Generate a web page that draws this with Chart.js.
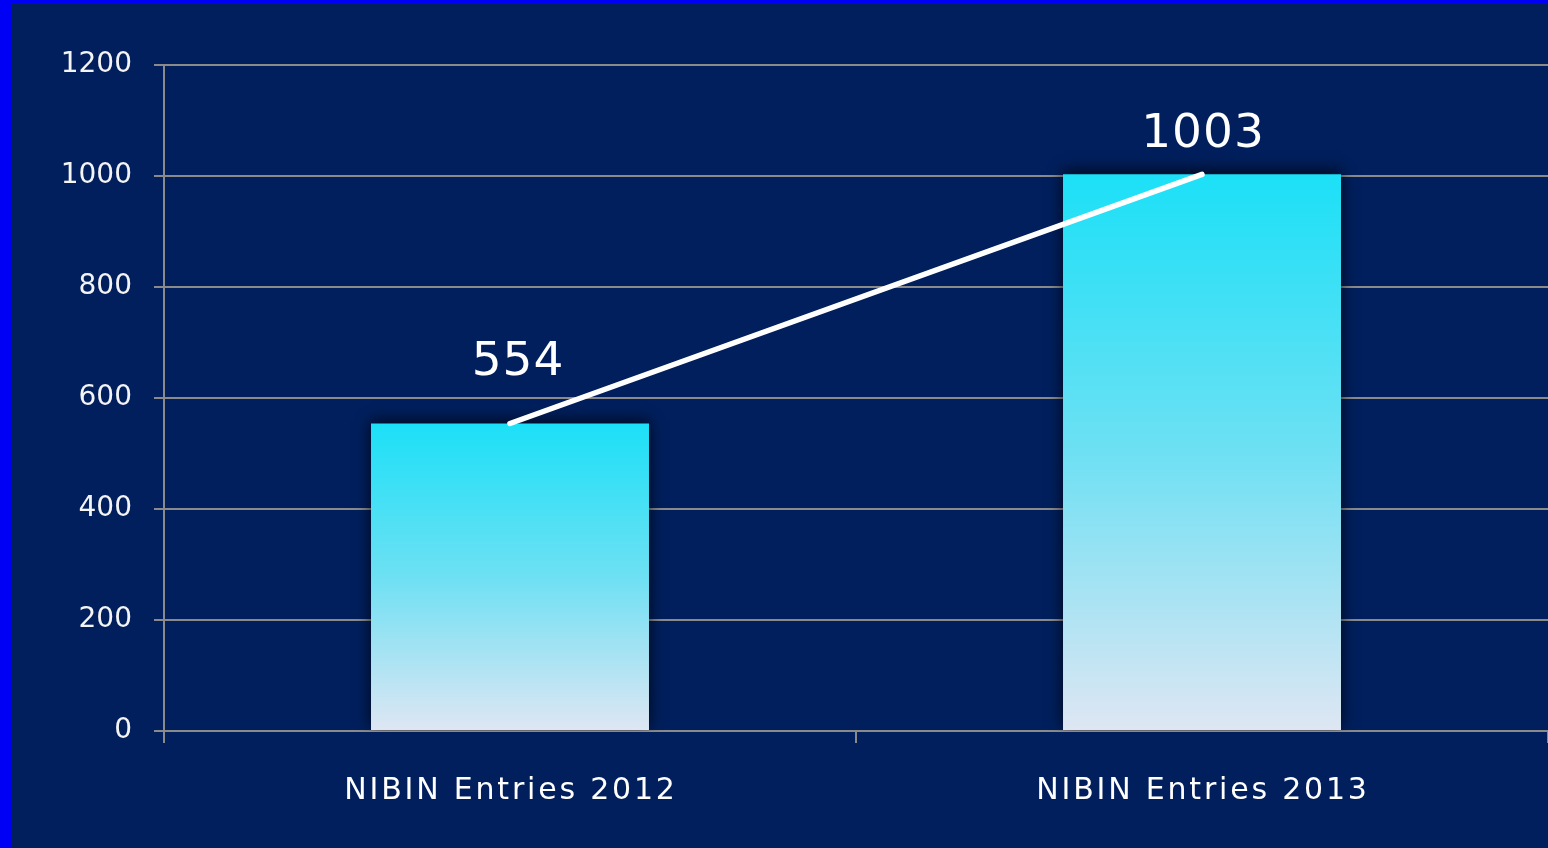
<!DOCTYPE html>
<html>
<head>
<meta charset="utf-8">
<script src="https://cdn.jsdelivr.net/npm/chart.js@4.4.0/dist/chart.umd.min.js"></script>
<style>
  html, body { margin: 0; padding: 0; background: #0000f5; width: 1548px; height: 848px; overflow: hidden; }
  #wrap { position: absolute; left: 11px; top: 3px; width: 1537px; height: 845px; background: #001f5c; }
  canvas { display: block; }
</style>
</head>
<body>
<div id="wrap"><canvas id="chart" width="1537" height="845"></canvas></div>
<script>
// ---- Data ----
const categories = ['NIBIN Entries 2012', 'NIBIN Entries 2013'];
const entries = [554, 1003];
const yTicks = [0, 200, 400, 600, 800, 1000, 1200];

// label nudges (px) relative to each line point
const labelDx = [8, 1];
const labelDy = [-61, -40];

const gridGray = '#8a8a8a';
const fontFamily = '"DejaVu Sans", sans-serif';

// shadow behind the bars
const barShadow = {
  id: 'barShadow',
  beforeDatasetDraw(chart, args) {
    if (args.meta.type !== 'bar') return;
    const c = chart.ctx;
    c.save();
    c.shadowColor = 'rgba(0,0,0,0.75)';
    c.shadowBlur = 14;
    c.shadowOffsetY = -3;
  },
  afterDatasetDraw(chart, args) {
    if (args.meta.type !== 'bar') return;
    chart.ctx.restore();
  }
};

// value labels + spaced category labels
const textLayer = {
  id: 'textLayer',
  afterDraw(chart) {
    const c = chart.ctx;
    const meta = chart.getDatasetMeta(1);
    c.save();
    c.fillStyle = '#ffffff';
    c.textAlign = 'center';
    c.textBaseline = 'middle';
    c.font = '47px ' + fontFamily;
    c.letterSpacing = '1px';
    meta.data.forEach((pt, i) => {
      c.fillText(String(entries[i]), pt.x + labelDx[i], pt.y + labelDy[i]);
    });
    const xs = chart.scales.x;
    c.font = '30px ' + fontFamily;
    c.letterSpacing = '2.8px';
    categories.forEach((lab, i) => {
      c.fillText(lab, xs.getPixelForValue(i) + 1, chart.chartArea.bottom + 60);
    });
    c.restore();
  }
};

const ctx = document.getElementById('chart').getContext('2d');
new Chart(ctx, {
  data: {
    labels: categories,
    datasets: [
      {
        type: 'bar',
        data: entries,
        order: 2,
        barPercentage: 0.8034,
        categoryPercentage: 0.5,
        borderWidth: 0,
        backgroundColor: (c) => {
          const chart = c.chart;
          const ys = chart.scales && chart.scales.y;
          if (!ys || c.raw == null) return '#1ee0f6';
          const top = ys.getPixelForValue(c.raw);
          const bot = ys.getPixelForValue(0);
          if (!isFinite(top) || !isFinite(bot) || top === bot) return '#1ee0f6';
          const g = chart.ctx.createLinearGradient(0, top, 0, bot);
          g.addColorStop(0, '#1ce0f7');
          g.addColorStop(0.5, '#6ee0f3');
          g.addColorStop(1, '#dfe6f3');
          return g;
        }
      },
      {
        type: 'line',
        data: entries,
        order: 1,
        borderColor: '#ffffff',
        borderWidth: 5.5,
        borderCapStyle: 'round',
        pointRadius: 0,
        tension: 0
      }
    ]
  },
  options: {
    responsive: false,
    animation: false,
    layout: { padding: { top: 62, right: 0, left: 0, bottom: 0 } },
    plugins: {
      legend: { display: false },
      tooltip: { enabled: false }
    },
    scales: {
      x: {
        offset: true,
        grid: {
          offset: true,
          drawOnChartArea: false,
          drawTicks: true,
          tickLength: 12,
          color: gridGray,
          lineWidth: 2
        },
        border: { color: gridGray, width: 2 },
        ticks: { display: false },
        afterFit(scale) { scale.height = 117; }
      },
      y: {
        min: 0,
        max: 1200,
        afterBuildTicks(scale) { scale.ticks = yTicks.map(v => ({ value: v })); },
        grid: {
          color: gridGray,
          lineWidth: 2,
          drawTicks: true,
          tickLength: 10
        },
        border: { color: gridGray, width: 2 },
        ticks: {
          color: '#f4f4f4',
          padding: 22,
          font: { family: fontFamily, size: 28 },
          callback: (v) => String(v)
        },
        afterFit(scale) { scale.width = 153; }
      }
    }
  },
  plugins: [barShadow, textLayer]
});
</script>
</body>
</html>
